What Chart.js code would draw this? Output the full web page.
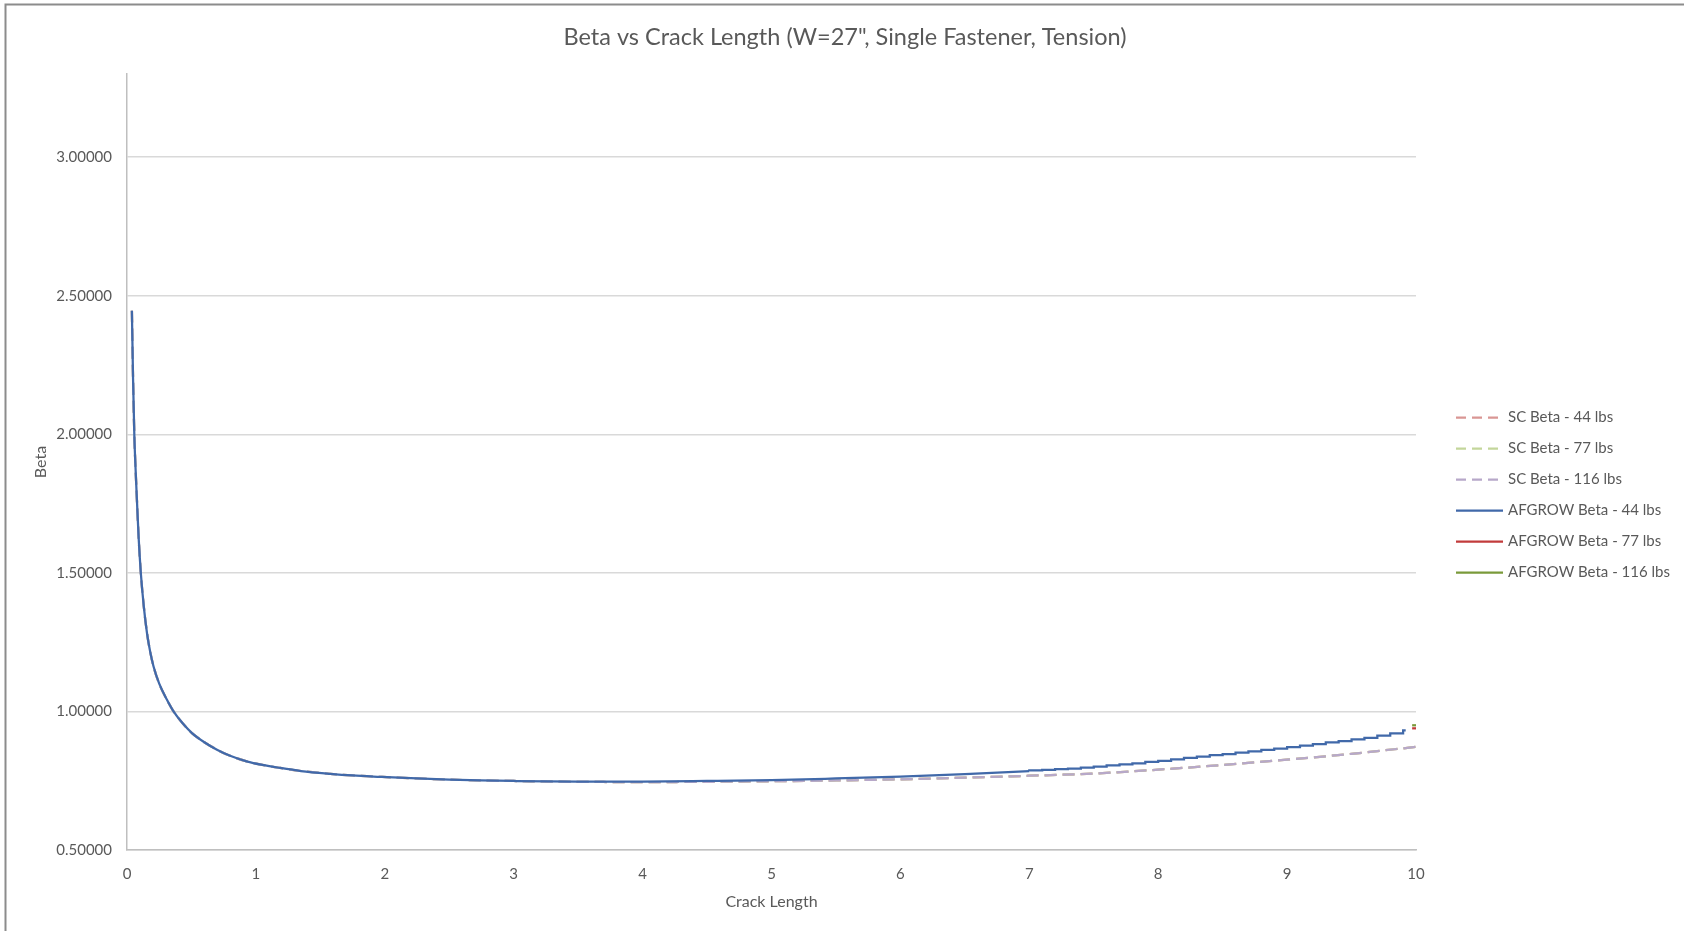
<!DOCTYPE html>
<html>
<head>
<meta charset="utf-8">
<script src="https://cdn.jsdelivr.net/npm/chart.js@4.4.1/dist/chart.umd.min.js"></script>
<style>
  html, body { margin: 0; padding: 0; background: #ffffff; }
  #wrap { position: absolute; left: 0; top: 0; width: 1684px; height: 931px; }
</style>
</head>
<body>
<div id="wrap"><canvas id="c" width="1684" height="931"></canvas></div>
<script>
// ---------- Data ----------
const chartTitle = 'Beta vs Crack Length (W=27", Single Fastener, Tension)';
const xAxisTitle = 'Crack Length';
const yAxisTitle = 'Beta';
const xTicks = [0, 1, 2, 3, 4, 5, 6, 7, 8, 9, 10];
const yTicks = [0.5, 1.0, 1.5, 2.0, 2.5, 3.0];

const seriesLabels = ['SC Beta - 44 lbs', 'SC Beta - 77 lbs', 'SC Beta - 116 lbs',
                      'AFGROW Beta - 44 lbs', 'AFGROW Beta - 77 lbs', 'AFGROW Beta - 116 lbs'];

// AFGROW 44 lbs, smooth part
const afgrowX = [0.038, 0.047, 0.057, 0.067, 0.077, 0.09, 0.108, 0.13, 0.155, 0.18, 0.206, 0.25, 0.31, 0.361,
                 0.43, 0.504, 0.6, 0.698, 0.8, 0.928, 1.05, 1.188, 1.35, 1.576, 1.75, 1.964, 2.25, 2.5, 2.74,
                 3.0, 3.5, 4.0, 4.5, 5.0, 5.5, 6.0, 6.5, 7.0];
const afgrow44 = [2.446, 2.20, 1.995, 1.87, 1.763, 1.63, 1.495, 1.38, 1.283, 1.215, 1.162, 1.10, 1.042, 1.0,
                  0.958, 0.922, 0.889, 0.862, 0.840, 0.820, 0.807, 0.796, 0.785, 0.775, 0.769, 0.764, 0.758, 0.754, 0.751,
                  0.749, 0.747, 0.747, 0.749, 0.752, 0.758, 0.765, 0.774, 0.785];
// AFGROW 44 lbs, stair-stepped tail
const afgrowStepX = [7.0, 7.1, 7.2, 7.3, 7.4, 7.5, 7.6, 7.7, 7.8, 7.9, 8.0, 8.1, 8.2, 8.3, 8.4, 8.5, 8.6, 8.7, 8.8, 8.9,
                     9.0, 9.1, 9.2, 9.3, 9.4, 9.5, 9.6, 9.7, 9.8, 9.9, 9.92];
const afgrow44Step = [0.785, 0.787, 0.789, 0.792, 0.794, 0.797, 0.801, 0.805, 0.809, 0.813, 0.818, 0.822, 0.827, 0.832,
                      0.837, 0.842, 0.846, 0.851, 0.856, 0.861, 0.866, 0.871, 0.877, 0.882, 0.888, 0.893, 0.899, 0.905,
                      0.913, 0.921, 0.932];
// AFGROW 77 / 116 lbs (tiny marks at the end)
const afgrow77X = [9.97, 10.0];
const afgrow77 = [0.939, 0.939];
const afgrow116X = [9.97, 10.0];
const afgrow116 = [0.950, 0.950];

// SC series
const scX = [0.038, 0.047, 0.057, 0.067, 0.077, 0.09, 0.108, 0.13, 0.155, 0.18, 0.206, 0.25, 0.31, 0.361,
             0.43, 0.504, 0.6, 0.698, 0.8, 0.928, 1.05, 1.188, 1.35, 1.576, 1.75, 1.964, 2.25, 2.5, 2.74,
             3.0, 3.5, 4.0, 4.5, 5.0, 5.5, 6.0, 6.5, 7.0, 7.5, 8.0, 8.5, 9.0, 9.5, 10.0];
const sc44 = [2.446, 2.20, 1.995, 1.87, 1.763, 1.63, 1.495, 1.38, 1.283, 1.215, 1.162, 1.10, 1.042, 1.0,
              0.958, 0.922, 0.889, 0.862, 0.840, 0.820, 0.807, 0.796, 0.785, 0.775, 0.769, 0.764, 0.758, 0.754, 0.751,
              0.749, 0.746, 0.745, 0.746, 0.748, 0.751, 0.755, 0.761, 0.768, 0.776, 0.790, 0.807, 0.826, 0.847, 0.872];
const sc77 = [2.446, 2.20, 1.995, 1.87, 1.763, 1.63, 1.495, 1.38, 1.283, 1.215, 1.162, 1.10, 1.042, 1.0,
              0.958, 0.922, 0.889, 0.862, 0.840, 0.820, 0.807, 0.796, 0.785, 0.775, 0.769, 0.764, 0.758, 0.754, 0.751,
              0.749, 0.746, 0.745, 0.746, 0.748, 0.751, 0.755, 0.761, 0.768, 0.776, 0.790, 0.807, 0.826, 0.847, 0.872];
const sc116 = [2.446, 2.20, 1.995, 1.87, 1.763, 1.63, 1.495, 1.38, 1.283, 1.215, 1.162, 1.10, 1.042, 1.0,
               0.958, 0.922, 0.889, 0.862, 0.840, 0.820, 0.807, 0.796, 0.785, 0.775, 0.769, 0.764, 0.758, 0.754, 0.751,
               0.749, 0.746, 0.745, 0.746, 0.748, 0.751, 0.755, 0.761, 0.768, 0.776, 0.790, 0.807, 0.826, 0.847, 0.872];

// ---------- Helpers ----------
const pts = (xs, ys) => xs.map((x, i) => ({ x: x, y: ys[i] }));
const TXT = '#595959';
const FONT = 'Lato, "Open Sans", sans-serif';

const dashed = [12, 6];
const datasets = [
  { label: seriesLabels[0], data: pts(scX, sc44), borderColor: '#D99694', borderDash: dashed, order: 6, cubicInterpolationMode: 'monotone' },
  { label: seriesLabels[1], data: pts(scX, sc77), borderColor: '#C3D69B', borderDash: dashed, order: 5, cubicInterpolationMode: 'monotone' },
  { label: seriesLabels[2], data: pts(scX, sc116), borderColor: '#B7A8C9', borderDash: dashed, order: 4, cubicInterpolationMode: 'monotone' },
  { label: seriesLabels[3], data: pts(afgrowX, afgrow44), borderColor: '#4169A9', order: 3, cubicInterpolationMode: 'monotone' },
  { label: seriesLabels[4], data: pts(afgrow77X, afgrow77), borderColor: '#C23B3B', order: 2 },
  { label: seriesLabels[5], data: pts(afgrow116X, afgrow116), borderColor: '#7A9A3A', order: 1 },
  { label: seriesLabels[3], data: pts(afgrowStepX, afgrow44Step), borderColor: '#4169A9', order: 3, stepped: 'after', legendHidden: true }
].map(d => Object.assign({ showLine: true, pointRadius: 0, pointHoverRadius: 0, borderWidth: 2.25, fill: false }, d));

// ---------- Plugins: background/border, title, legend ----------
const decor = {
  id: 'decor',
  beforeDraw(chart) {
    const ctx = chart.ctx;
    ctx.save();
    ctx.fillStyle = '#ffffff';
    ctx.fillRect(0, 0, chart.width, chart.height);
    ctx.strokeStyle = '#8c8c8c';
    ctx.lineWidth = 2;
    ctx.beginPath();
    ctx.moveTo(5.5, chart.height);
    ctx.lineTo(5.5, 4.5);
    ctx.lineTo(chart.width, 4.5);
    ctx.stroke();
    ctx.restore();
  },
  afterDraw(chart) {
    const ctx = chart.ctx;
    ctx.save();
    // title
    ctx.fillStyle = TXT;
    ctx.font = '23.5px ' + FONT;
    ctx.textAlign = 'center';
    ctx.textBaseline = 'middle';
    ctx.fillText(chartTitle, 845, 37);
    // legend
    const items = chart.data.datasets.filter(d => !d.legendHidden);
    const x0 = 1456, x1 = 1503, tx = 1508, y0 = 417.5, dy = 31;
    ctx.font = '15px ' + FONT;
    ctx.textAlign = 'left';
    items.forEach((d, i) => {
      const y = y0 + i * dy;
      ctx.strokeStyle = d.borderColor;
      ctx.lineWidth = d.borderWidth;
      ctx.setLineDash(d.borderDash ? [10, 6] : []);
      ctx.beginPath();
      ctx.moveTo(x0, y);
      ctx.lineTo(x1, y);
      ctx.stroke();
      ctx.setLineDash([]);
      ctx.fillStyle = TXT;
      ctx.fillText(d.label, tx, y);
    });
    ctx.restore();
  }
};

new Chart(document.getElementById('c'), {
  type: 'scatter',
  data: { datasets: datasets },
  plugins: [decor],
  options: {
    responsive: false,
    animation: false,
    devicePixelRatio: 1,
    layout: { padding: { top: 74, right: 268, left: 0, bottom: 0 } },
    plugins: { legend: { display: false }, title: { display: false }, tooltip: { enabled: false } },
    scales: {
      x: {
        type: 'linear', min: 0, max: 10,
        afterBuildTicks: (s) => { s.ticks = xTicks.map(v => ({ value: v })); },
        afterFit: (s) => { s.height = 81; },
        grid: { drawOnChartArea: false, drawTicks: false },
        border: { display: true, color: '#bfbfbf', width: 1.5 },
        ticks: { color: TXT, font: { family: FONT, size: 15 }, padding: 15, maxRotation: 0, callback: (v) => String(v) },
        title: { display: true, text: xAxisTitle, color: TXT, font: { family: FONT, size: 16 }, padding: { top: 0, bottom: 20 } }
      },
      y: {
        type: 'linear', min: 0.5, max: 3.3,
        afterBuildTicks: (s) => { s.ticks = yTicks.map(v => ({ value: v })); },
        afterFit: (s) => { s.width = 127; },
        grid: { color: '#d9d9d9', lineWidth: 1.5, drawTicks: false },
        border: { display: true, color: '#bfbfbf', width: 1.5 },
        ticks: { color: TXT, font: { family: FONT, size: 15 }, padding: 15, callback: (v) => Number(v).toFixed(5) },
        title: { display: true, text: yAxisTitle, color: TXT, font: { family: FONT, size: 16 }, padding: { top: 31, bottom: 0 } }
      }
    }
  }
});
</script>
</body>
</html>
